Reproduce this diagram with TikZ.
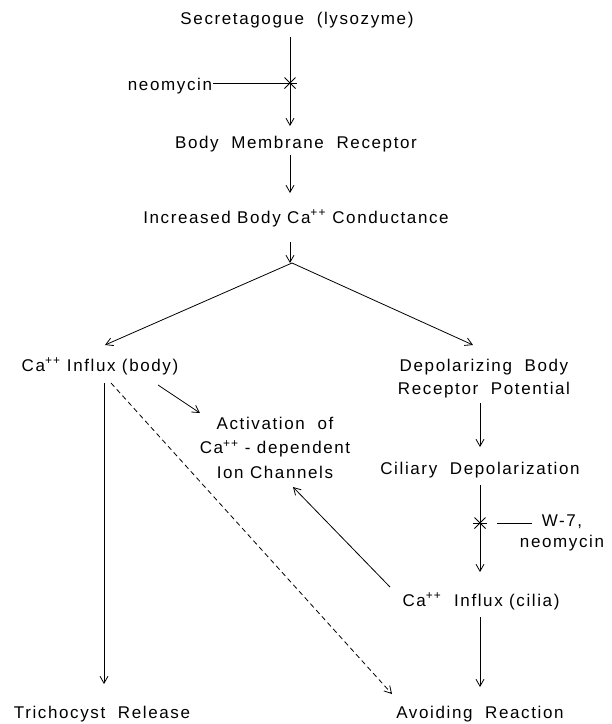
\documentclass[tikz,border=0pt]{standalone}
\usepackage{fontspec}
\setmainfont[LetterSpace=9.5]{Liberation Sans}
\usetikzlibrary{arrows.meta,calc}
\newcommand{\mystrut}{\rule{0pt}{13pt}}
\tikzset{
  lbl/.style={inner sep=0pt, outer sep=0pt, anchor=north, align=center, font=\fontsize{17}{24}\selectfont},
  arr/.style={line width=0.8pt, -{Straight Barb[length=7pt,width=8pt]}},
  ln/.style={line width=0.8pt},
  dsh/.style={line width=0.8pt, dash pattern=on 5pt off 3.5pt, -{Straight Barb[length=7pt,width=8pt]}}
}
\newcommand{\blockstar}[1]{%
  \draw[ln] ($(#1)+(-7,0)$) -- ($(#1)+(7,0)$);
  \draw[ln] ($(#1)+(-5.5,-5.5)$) -- ($(#1)+(5.5,5.5)$);
  \draw[ln] ($(#1)+(-5.5,5.5)$) -- ($(#1)+(5.5,-5.5)$);
}
\begin{document}
\begin{tikzpicture}[x=1pt,y=-1pt]
\useasboundingbox (0,0) rectangle (612,724);
% labels
\node[lbl] (sec) at (297,11) {\mystrut Secretagogue\ \ (lysozyme)};
\node[lbl, anchor=north east] (neo) at (212,77) {\mystrut neomycin};
\coordinate (st1) at (290,83);
\node[lbl] (bmr) at (296,135) {\mystrut Body\ \ Membrane\ \ Receptor};
\node[lbl] (ibc) at (296,210) {\mystrut Increased Body Ca\textsuperscript{++} Conductance};
\coordinate (split) at (292,263);
\node[lbl] (cab) at (100,358) {\mystrut Ca\textsuperscript{++} Influx (body)};
\node[lbl, font=\fontsize{17}{23}\selectfont] (dep) at (484,358) {\mystrut Depolarizing\ \ Body\\Receptor\ \ Potential};
\node[lbl, font=\fontsize{17}{24.5}\selectfont] (act) at (275,416) {\mystrut Activation\ \ of\\Ca\textsuperscript{++} - dependent\\Ion Channels};
\node[lbl] (cil) at (480,461) {\mystrut Ciliary\ \ Depolarization};
\coordinate (st2) at (480,523);
\node[lbl, font=\fontsize{17}{21}\selectfont] (w7) at (562,513) {\mystrut W-7,\\neomycin};
\node[lbl] (cia) at (481,593) {\mystrut Ca\textsuperscript{++}\ \ Influx (cilia)};
\node[lbl] (tri) at (102,705) {\mystrut Trichocyst\ \ Release};
\node[lbl] (avo) at (480,705) {\mystrut Avoiding\ \ Reaction};
% connectors
\draw[arr] (st1 |- 0,37) -- (st1 |- 0,126);
\draw[ln] (neo.east |- st1) ++(1,0) -- (st1);
\blockstar{st1}
\draw[arr] (st1 |- 0,155) -- (st1 |- 0,193);
\draw[arr] (st1 |- 0,242) -- (st1 |- 0,263);
\draw[arr] (split) -- (105,345);
\draw[arr] (split) -- (473,345);
\draw[arr] (104,383) -- (104,684);
\draw[dsh] (111,383) -- (392,694);
\draw[arr] (158,385) -- (200,413);
\draw[arr] (480,403) -- (480,447);
\draw[arr] (480,485) -- (480,572);
\blockstar{st2}
\draw[ln] (st2) ++(17,0) -- (532,523);
\draw[arr] (390,587) -- (293,487);
\draw[arr] (480,617) -- (480,687);
\end{tikzpicture}
\end{document}
